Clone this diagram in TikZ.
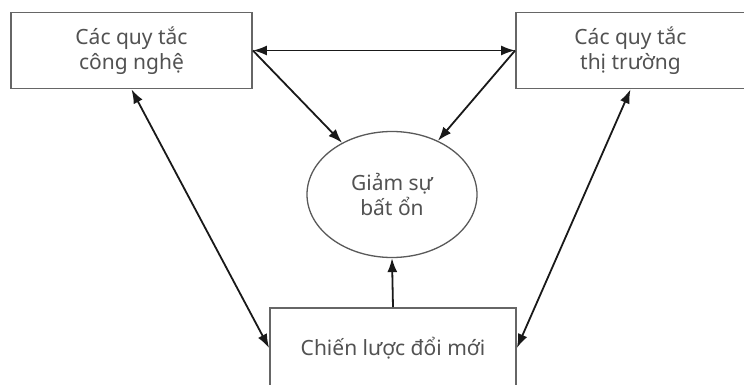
\documentclass[tikz,border=0pt]{standalone}
\usepackage{fontspec}
\setmainfont{Noto Sans}
\usetikzlibrary{shapes.geometric, arrows.meta, positioning}

\begin{document}
\begin{tikzpicture}[
  x=1pt, y=-1pt,
  rulebox/.style={rectangle, draw=black!60, line width=1.8pt, fill=white, align=center, text=black!68, font=\fontsize{21}{25}\selectfont},
  goal/.style={ellipse, draw=black!65, line width=1.3pt, fill=white, minimum width=170pt, minimum height=126pt, align=center, text=black!68, font=\fontsize{21}{25}\selectfont},
  arrow/.style={line width=1.8pt, draw=black!90, -{Latex[length=14pt, width=10pt]}},
  twoway/.style={line width=1.8pt, draw=black!90, {Latex[length=14pt, width=10pt]}-{Latex[length=14pt, width=10pt]}}
]
\useasboundingbox (0,0) rectangle (744,385);

% the three boxes and the goal
\node[rulebox, minimum width=241pt, minimum height=76pt] (tech) at (131.5,50.5) {Các quy tắc\\công nghệ};
\node[rulebox, minimum width=229pt, minimum height=76pt] (market) at (630.5,50.5) {Các quy tắc\\thị trường};
\node[goal] (calm) at (392,194.5) {Giảm sự\\bất ổn};
\node[rulebox, minimum width=246pt, minimum height=80pt] (strategy) at (393,348) {Chiến lược đổi mới};

\draw[twoway] (tech.east) -- (market.west);
\draw[arrow] (tech.east) -- (calm);
\draw[arrow] (market.west) -- (calm);
\draw[twoway] (tech.south) -- (strategy.west);
\draw[twoway] (market.south) -- (strategy.east);
\draw[arrow] (strategy.north) -- (calm.south);

\end{tikzpicture}
\end{document}
